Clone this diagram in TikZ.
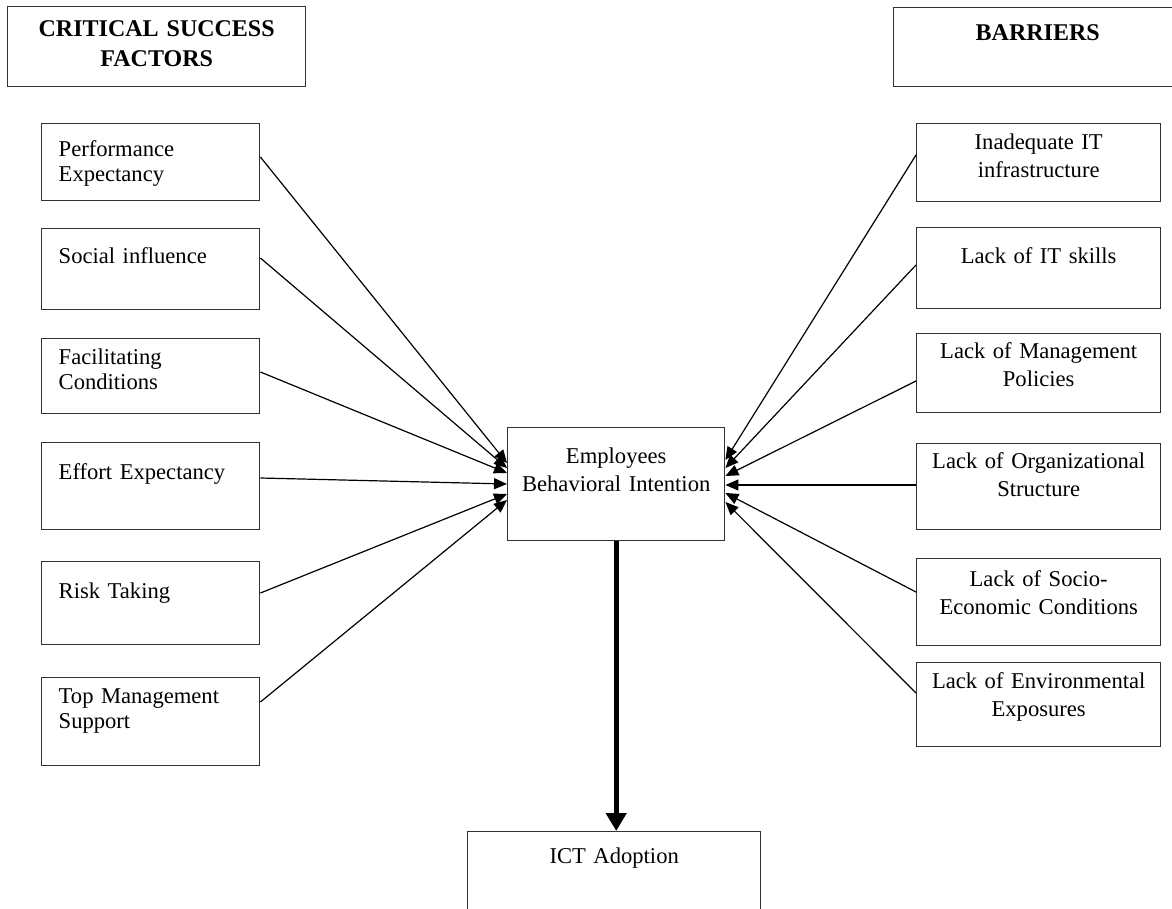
\documentclass[tikz,border=0pt]{standalone}
\usepackage{fontspec}
\setmainfont{Liberation Serif}
\usetikzlibrary{arrows.meta,positioning}

\begin{document}
\begin{tikzpicture}[%
    x=0.5pt, y=-0.5pt,                          % one unit is one pixel of the figure
    >={Triangle[length=6.5pt,width=5.5pt]},     % small filled tips
    every node/.style={font=\fontsize{11.3}{14}\selectfont},
    ]
% -------------------------------------------------
% Box styles: text height / depth fix the box around the first baseline
\tikzset{
  base/.style={draw=black!80, line width=0.7pt, anchor=north west, inner ysep=0pt},
  csf/.style 2 args={base, text width=92pt, inner xsep=8.5pt, align=left,
    text height=#1, text depth=#2, font=\fontsize{11.3}{12.5}\selectfont},
  bar/.style 2 args={base, text width=114pt, inner xsep=4pt, align=center,
    text height=#1, text depth=#2},
  mid/.style 2 args={base, inner xsep=4pt, align=center,
    text height=#1, text depth=#2},
  head/.style 2 args={base, inner xsep=4pt, align=center,
    text height=#1, text depth=#2, font=\bfseries\fontsize{12}{15}\selectfont},
  % Connector line styles
  link/.style={->, line width=0.6pt},
  main/.style={-{Triangle[length=9pt,width=10pt]}, line width=2.5pt},
}
\useasboundingbox (0,0) rectangle (1172,909);
\clip (0,0) rectangle (1172,909);
% -------------------------------------------------
% Headers
\node [head={15pt}{25pt}, text width=141pt] (csf) at (7,6) {CRITICAL SUCCESS\\FACTORS};
\node [head={16.5pt}{23pt}, text width=136pt] (bar) at (893,7) {BARRIERS};

% Critical success factors
\node [csf={16.5pt}{22pt}] (pe) at (41,123) {Performance\\Expectancy};
\node [csf={17.5pt}{23pt}] (si) at (41,228) {Social influence};
\node [csf={13pt}{24.5pt}] (fc) at (41,338) {Facilitating\\Conditions};
\node [csf={18.5pt}{25pt}] (ee) at (41,442) {Effort Expectancy};
\node [csf={18.5pt}{23pt}] (rt) at (41,561) {Risk Taking};
\node [csf={13pt}{31pt}] (tm) at (41,677) {Top Management\\Support};

% Barriers
\node [bar={13pt}{26pt}] (infra) at (916,123) {Inadequate IT\\infrastructure};
\node [bar={18pt}{22.5pt}] (skill) at (916,227) {Lack of IT skills};
\node [bar={12.5pt}{27pt}] (pol) at (916,333) {Lack of Management\\Policies};
\node [bar={12.5pt}{30.5pt}] (org) at (916,443) {Lack of Organizational\\Structure};
\node [bar={14pt}{29.5pt}] (soc) at (916,558) {Lack of Socio-\\Economic Conditions};
\node [bar={13pt}{29pt}] (env) at (916,662) {Lack of Environmental\\Exposures};

% Intention and adoption
\node [mid={18pt}{38.5pt}, text width=100.5pt] (bi) at (507,427) {Employees\\Behavioral Intention};
\node [mid={16pt}{40pt}, text width=138.5pt] (ict) at (467,831) {ICT Adoption};

% -------------------------------------------------
\draw[link] (pe.east |- 0,157) to (bi.west |- 0,463);
\draw[link] (si.east |- 0,258) to (bi.west |- 0,468);
\draw[link] (fc.east |- 0,372) to (bi.west |- 0,473);
\draw[link] (ee.east |- 0,478) to (bi.west |- 0,484);
\draw[link] (rt.east |- 0,593) to (bi.west |- 0,494);
\draw[link] (tm.east |- 0,702) to (bi.west |- 0,500);

\draw[link] (infra.west |- 0,155) to (bi.east |- 0,460);
\draw[link] (skill.west |- 0,265) to (bi.east |- 0,468);
\draw[link] (pol.west |- 0,381) to (bi.east |- 0,476);
\draw[link] (org.west |- 0,485) to (bi.east |- 0,485);
\draw[link] (soc.west |- 0,592) to (bi.east |- 0,493);
\draw[link] (env.west |- 0,693) to (bi.east |- 0,502);

\draw[main] (bi.south) to (bi.south |- ict.north);
% -------------------------------------------------
\end{tikzpicture}
\end{document}
